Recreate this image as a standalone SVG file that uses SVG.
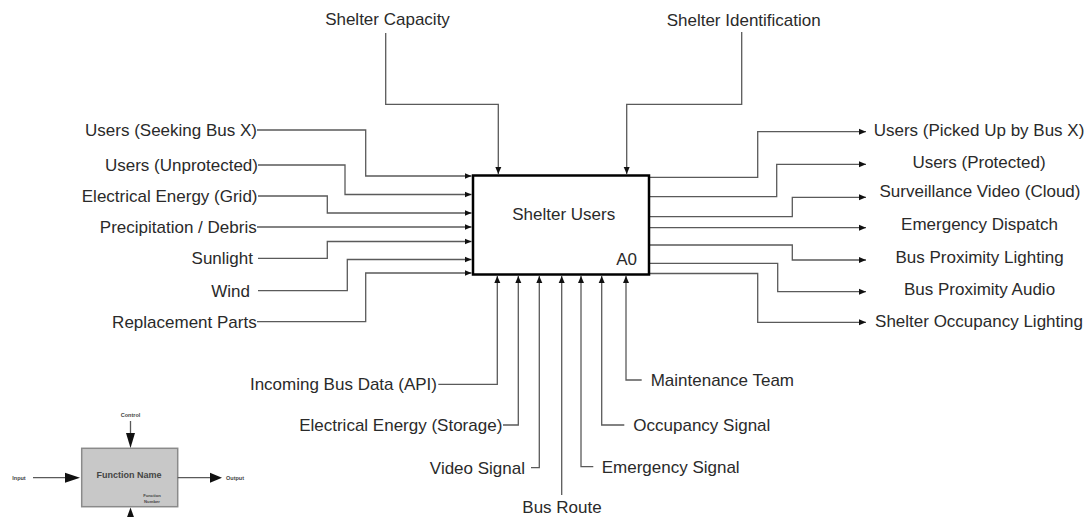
<svg xmlns="http://www.w3.org/2000/svg" width="1089" height="517" viewBox="0 0 1089 517">
<defs>
<marker id="ah" markerUnits="userSpaceOnUse" markerWidth="8" markerHeight="8" refX="7" refY="3.5" orient="auto">
<path d="M0,0.5 L7,3.5 L0,6.5 z" fill="#111"/>
</marker>
<marker id="big" markerUnits="userSpaceOnUse" markerWidth="16" markerHeight="12" refX="15" refY="5" orient="auto">
<path d="M0,0 L15,5 L0,10 z" fill="#111"/>
</marker>
</defs>
<style>
text{font-family:"Liberation Sans",Arial,sans-serif;font-size:17px;fill:#2a2a2a}
.c{fill:none;stroke:#5a5a5a;stroke-width:1.3;marker-end:url(#ah)}
.l{fill:none;stroke:#5a5a5a;stroke-width:1.3}
.e{text-anchor:end}
.m{text-anchor:middle}
.lg{font-weight:bold;fill:#444}
</style>
<rect width="1089" height="517" fill="#fff"/>
<g id="connectors">
<path class="c" d="M257,130 H365.7 V176 H471.5"/>
<path class="c" d="M258,165 H345 V194.5 H471.5"/>
<path class="c" d="M258,196 H327.3 V213 H471.5"/>
<path class="c" d="M257,227 H471.5"/>
<path class="c" d="M258,258.3 H327.3 V241.5 H471.5"/>
<path class="c" d="M258,290.7 H347.3 V259.5 H471.5"/>
<path class="c" d="M257,321.7 H365.7 V273 H471.5"/>
<path class="c" d="M650,177.3 H757.7 V131.7 H866"/>
<path class="c" d="M650,196.7 H776.7 V164.3 H866"/>
<path class="c" d="M650,216.7 H792.3 V197.3 H866"/>
<path class="c" d="M650,227.7 H866"/>
<path class="c" d="M650,245 H792.3 V260 H866"/>
<path class="c" d="M650,263.3 H777.7 V291.7 H866"/>
<path class="c" d="M650,273.5 H757.7 V322.3 H866"/>
<path class="c" d="M385.7,33 V104.3 H498.3 V174"/>
<path class="c" d="M741.7,32 V104.3 H626.7 V174"/>
<path class="c" d="M438.3,384.3 H497.3 V276"/>
<path class="c" d="M503,425 H518.3 V276"/>
<path class="c" d="M531,467.7 H539.3 V276"/>
<path class="c" d="M561.7,495 V276"/>
<path class="c" d="M593.3,466.7 H581 V276"/>
<path class="c" d="M624.3,425 H601.7 V276"/>
<path class="c" d="M641.7,380 H626 V276"/>
</g>
<g id="A0">
<rect x="473" y="175.5" width="176" height="99" fill="#fff" stroke="#000" stroke-width="2.5"/>
<text class="m" x="563.7" y="220">Shelter Users</text>
<text class="e" x="637" y="265">A0</text>
</g>
<g id="inputs">
<text class="e" x="257" y="136">Users (Seeking Bus X)</text>
<text class="e" x="258" y="171">Users (Unprotected)</text>
<text class="e" x="257.5" y="202">Electrical Energy (Grid)</text>
<text class="e" x="256.7" y="233">Precipitation / Debris</text>
<text class="e" x="253" y="264.3">Sunlight</text>
<text class="e" x="250" y="296.7">Wind</text>
<text class="e" x="256.7" y="327.7">Replacement Parts</text>
</g>
<g id="outputs">
<text class="m" x="979" y="136">Users (Picked Up by Bus X)</text>
<text class="m" x="979" y="167.7">Users (Protected)</text>
<text class="m" x="980" y="197">Surveillance Video (Cloud)</text>
<text class="m" x="979.5" y="230.3">Emergency Dispatch</text>
<text class="m" x="979.5" y="262.7">Bus Proximity Lighting</text>
<text class="m" x="979.5" y="295.3">Bus Proximity Audio</text>
<text class="m" x="979" y="326.7">Shelter Occupancy Lighting</text>
</g>
<g id="controls">
<text class="m" x="387.5" y="24.5">Shelter Capacity</text>
<text class="m" x="743.7" y="25.5">Shelter Identification</text>
</g>
<g id="mechanisms">
<text class="e" x="437" y="389.5">Incoming Bus Data (API)</text>
<text class="e" x="502.3" y="431">Electrical Energy (Storage)</text>
<text class="e" x="525" y="473.5">Video Signal</text>
<text class="m" x="562" y="513">Bus Route</text>
<text x="601.7" y="472.5">Emergency Signal</text>
<text x="633.3" y="431">Occupancy Signal</text>
<text x="650.7" y="386">Maintenance Team</text>
</g>
<g id="legend">
<rect x="81.7" y="448.3" width="96" height="58.4" fill="#c8c8c8" stroke="#8a8a8a" stroke-width="1.5"/>
<path class="l" d="M130.5,421 V433" stroke="#333"/>
<path d="M126,433 L135,433 L130.5,448 z" fill="#111"/>
<path class="l" d="M33,477.7 H66" stroke="#333"/>
<path d="M65,472.7 L80,477.7 L65,482.7 z" fill="#111"/>
<path class="l" d="M177.7,477.7 H210" stroke="#333"/>
<path d="M210,472.7 L222,477.7 L210,482.7 z" fill="#111"/>
<path d="M130.5,507.5 L126,520 L135,520 z" fill="#111"/>
<text class="m lg" x="130.5" y="417" style="font-size:5.5px">Control</text>
<text class="m lg" x="19" y="479.5" style="font-size:5.5px">Input</text>
<text class="lg" x="226" y="479.5" style="font-size:5.5px">Output</text>
<text class="m lg" x="129" y="477.5" style="font-size:9px">Function Name</text>
<text class="m lg" x="152" y="496.5" style="font-size:4.2px">Function</text>
<text class="m lg" x="152" y="502.5" style="font-size:4.2px">Number</text>
</g>
</svg>
